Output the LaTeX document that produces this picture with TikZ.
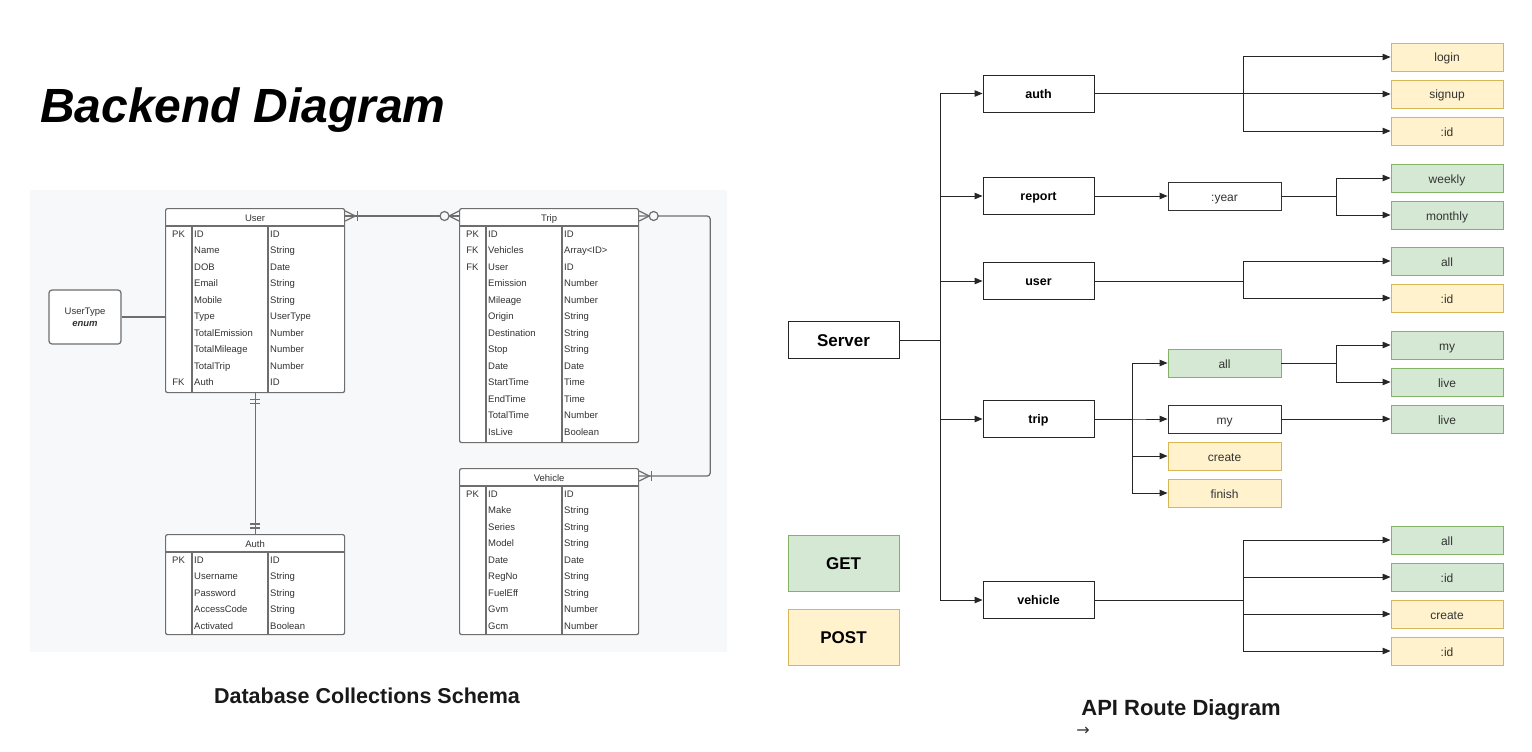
\documentclass[tikz,border=0pt]{standalone}
\usepackage{fontspec}
\setmainfont{Liberation Sans}
\newfontfamily\symfont{DejaVu Sans}
\usetikzlibrary{arrows.meta,calc}
\definecolor{erbg}{HTML}{F7F8F9}
\definecolor{erln}{HTML}{6E6E6E}
\definecolor{ertx}{HTML}{333333}
\definecolor{gfill}{HTML}{D5E8D4}
\definecolor{gdraw}{HTML}{82B366}
\definecolor{yfill}{HTML}{FFF2CC}
\definecolor{ydraw}{HTML}{D6B656}
\tikzset{
  tbl/.style={draw=erln, line width=1.2pt, rounded corners=2pt, anchor=north west, minimum width=179pt, inner sep=0pt, fill=white},
  cell/.style={font=\fontsize{9.5}{11}\selectfont, text=ertx, inner sep=0pt, text height=9pt, text depth=1pt},
  erl/.style={draw=erln, line width=1.2pt},
  rbox/.style={draw=black!85, line width=0.9pt, fill=white, minimum width=111pt, minimum height=37pt, inner sep=0pt, text height=11.5pt, text depth=2pt, font=\bfseries\fontsize{12.5}{14}\selectfont},
  bigbox/.style={rbox, text height=15pt, text depth=2pt, font=\bfseries\fontsize{17}{20}\selectfont},
  leaf/.style={draw, line width=0.9pt, minimum width=112pt, minimum height=28pt, inner sep=0pt, text height=12pt, text depth=2pt, font=\fontsize{12}{14}\selectfont, text=ertx},
  gl/.style={leaf, fill=gfill, draw=gdraw},
  yl/.style={leaf, fill=yfill, draw=ydraw},
  wl/.style={leaf, draw=black!80, fill=white, minimum width=113pt},
  arr/.style={draw=black!85, line width=1pt, -{Triangle[length=8pt,width=6.5pt]}},
}
\newcommand\ertable[5]{%
  \node[tbl, minimum height=#3] (#1) at #2 {};
  \node[cell] (#1-h) at ($(#1.north)+(0,9)$) {#4};
  \draw[erl] ($(#1.north west)+(0,18)$) -- ($(#1.north east)+(0,18)$);
  \draw[erl] ($(#1.north west)+(27,18)$) -- ($(#1.south west)+(27,0)$);
  \draw[erl] ($(#1.north west)+(103,18)$) -- ($(#1.south west)+(103,0)$);
  \foreach \ka/\na/\ty [count=\i from 0] in {#5} {
    \node[cell] (#1-k\i) at ($(#1.north west)+(13.5,25+16.5*\i)$) {\ka};
    \node[cell, anchor=west] (#1-n\i) at ($(#1.north west)+(29,25+16.5*\i)$) {\na};
    \node[cell, anchor=west] (#1-t\i) at ($(#1.north west)+(105,25+16.5*\i)$) {\ty};
  }%
}
\begin{document}
\begin{tikzpicture}[x=1pt, y=-1pt]
\useasboundingbox (0,0) rectangle (1532,752);
\fill[white] (0,0) rectangle (1532,752);

% ---------- titles ----------
\node[anchor=base west, inner sep=0pt, font=\bfseries\itshape\fontsize{48}{52}\selectfont] (title) at (40,122) {Backend Diagram};
\node[inner sep=0pt, font=\bfseries\fontsize{21.5}{24}\selectfont, text=black!90] (dbtitle) at (367,696) {Database Collections Schema};
\node[inner sep=0pt, font=\bfseries\fontsize{22}{26}\selectfont, text=black!90] (apititle) at (1181,710) {API Route Diagram};
\node[inner sep=0pt, font=\symfont\fontsize{16}{18}\selectfont, text=black!80] (smallarrow) at (1083,731) {→};

% ---------- ER panel ----------
\fill[erbg] (30,190) rectangle (727,652);

\ertable{uTbl}{(165,208)}{184pt}{User}{PK/ID/ID, /Name/String, /DOB/Date, /Email/String, /Mobile/String, /Type/UserType, /TotalEmission/Number, /TotalMileage/Number, /TotalTrip/Number, FK/Auth/ID}
\ertable{tTbl}{(459,208)}{234pt}{Trip}{PK/ID/ID, FK/Vehicles/Array<ID>, FK/User/ID, /Emission/Number, /Mileage/Number, /Origin/String, /Destination/String, /Stop/String, /Date/Date, /StartTime/Time, /EndTime/Time, /TotalTime/Number, /IsLive/Boolean}
\ertable{vTbl}{(459,468)}{166pt}{Vehicle}{PK/ID/ID, /Make/String, /Series/String, /Model/String, /Date/Date, /RegNo/String, /FuelEff/String, /Gvm/Number, /Gcm/Number}
\ertable{aTbl}{(165,534)}{100pt}{Auth}{PK/ID/ID, /Username/String, /Password/String, /AccessCode/String, /Activated/Boolean}

\node[draw=erln, line width=1.2pt, rounded corners=3pt, fill=white, minimum width=72pt, minimum height=54pt, inner sep=0pt, align=center, font=\fontsize{9.5}{12}\selectfont, text=ertx] (utype) at (85,317) {UserType\\\textbf{\textit{enum}}};
\draw[erl] (utype.east) -- (utype.east -| uTbl.west);

% User -- Trip
\coordinate (ut1) at ($(uTbl.north east)+(0,8)$);
\coordinate (ut2) at ($(tTbl.north west)+(0,8)$);
\draw[erl] (ut1) -- (ut2);
\draw[erl] ($(ut1)+(0,-5)$) -- ($(ut1)+(10,0)$) -- ($(ut1)+(0,5)$);
\draw[erl] ($(ut1)+(12,-5)$) -- ($(ut1)+(12,5)$);
\draw[erl] ($(ut2)+(0,-5)$) -- ($(ut2)+(-10,0)$) -- ($(ut2)+(0,5)$);
\draw[erl, fill=erbg] ($(ut2)+(-14.5,0)$) circle (4.5pt);

% Trip -- Vehicle
\coordinate (tv1) at ($(tTbl.north east)+(0,8)$);
\coordinate (tv2) at ($(vTbl.north east)+(0,8)$);
\draw[erl, rounded corners=3pt] (tv1) -- ++(71,0) |- (tv2);
\draw[erl] ($(tv1)+(0,-5)$) -- ($(tv1)+(10,0)$) -- ($(tv1)+(0,5)$);
\draw[erl, fill=erbg] ($(tv1)+(14.5,0)$) circle (4.5pt);
\draw[erl] ($(tv2)+(0,-5)$) -- ($(tv2)+(10,0)$) -- ($(tv2)+(0,5)$);
\draw[erl] ($(tv2)+(12,-5)$) -- ($(tv2)+(12,5)$);

% User -- Auth
\draw[erl] (uTbl.south) -- (aTbl.north);
\draw[erl] ($(uTbl.south)+(-5,6)$) -- ($(uTbl.south)+(5,6)$);
\draw[erl] ($(uTbl.south)+(-5,10)$) -- ($(uTbl.south)+(5,10)$);
\draw[erl] ($(aTbl.north)+(-5,-6)$) -- ($(aTbl.north)+(5,-6)$);
\draw[erl] ($(aTbl.north)+(-5,-10)$) -- ($(aTbl.north)+(5,-10)$);

% ---------- API routes ----------
\node[bigbox] (server) at (843.5,340) {Server};
\node[rbox] (rauth) at (1038.5,93.5) {auth};
\node[rbox] (rreport) at (1038.5,196) {report};
\node[rbox] (ruser) at (1038.5,281) {user};
\node[rbox] (rtrip) at (1038.5,419) {trip};
\node[rbox] (rvehicle) at (1038.5,600) {vehicle};

\node[bigbox, draw=gdraw, fill=gfill, minimum height=56pt] (get) at (843.5,563) {GET};
\node[bigbox, draw=ydraw, fill=yfill, minimum height=56pt] (post) at (843.5,637) {POST};

\node[yl] (login) at (1447,57) {login};
\node[yl] (signup) at (1447,94) {signup};
\node[yl] (aid) at (1447,131) {:id};
\node[wl] (year) at (1224.5,196) {:year};
\node[gl] (weekly) at (1447,178) {weekly};
\node[gl] (monthly) at (1447,215) {monthly};
\node[gl] (uall) at (1447,261) {all};
\node[yl] (uid) at (1447,298) {:id};
\node[gl, minimum width=113pt] (tall) at (1224.5,363) {all};
\node[wl] (tmy) at (1224.5,419) {my};
\node[yl, minimum width=113pt] (tcreate) at (1224.5,456) {create};
\node[yl, minimum width=113pt] (tfinish) at (1224.5,493) {finish};
\node[gl] (tamy) at (1447,345) {my};
\node[gl] (talive) at (1447,382) {live};
\node[gl] (tmylive) at (1447,419) {live};
\node[gl] (vall) at (1447,540) {all};
\node[gl] (vid) at (1447,577) {:id};
\node[yl] (vcreate) at (1447,614) {create};
\node[yl] (vid2) at (1447,651) {:id};

\coordinate (trunk) at ($(server.east)+(41,0)$);
\foreach \r in {rauth,rreport,ruser,rtrip,rvehicle}
  \draw[arr] (server.east) -- (trunk) |- (\r.west);

\coordinate (ab) at ($(rauth.east)+(149,0)$);
\foreach \r in {login,signup,aid}
  \draw[arr] (rauth.east) -- (ab) |- (\r.west);

\draw[arr] (rreport.east) -- (year.west);
\coordinate (yb) at ($(year.east)+(55,0)$);
\foreach \r in {weekly,monthly}
  \draw[arr] (year.east) -- (yb) |- (\r.west);

\coordinate (ub) at ($(ruser.east)+(149,0)$);
\foreach \r in {uall,uid}
  \draw[arr] (ruser.east) -- (ub) |- (\r.west);

\coordinate (tb) at ($(rtrip.east)+(38,0)$);
\foreach \r in {tall,tmy,tcreate,tfinish}
  \draw[arr] (rtrip.east) -- (tb) |- (\r.west);

\coordinate (tab) at ($(tall.east)+(55,0)$);
\foreach \r in {tamy,talive}
  \draw[arr] (tall.east) -- (tab) |- (\r.west);
\draw[arr] (tmy.east) -- (tmylive.west);

\coordinate (vb) at ($(rvehicle.east)+(149,0)$);
\foreach \r in {vall,vid,vcreate,vid2}
  \draw[arr] (rvehicle.east) -- (vb) |- (\r.west);
\end{tikzpicture}
\end{document}
